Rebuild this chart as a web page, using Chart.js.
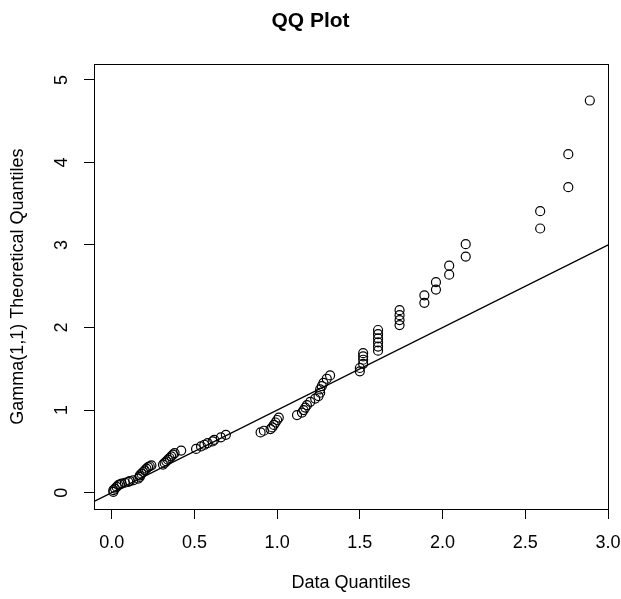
<!DOCTYPE html>
<html>
<head>
<meta charset="utf-8">
<script src="https://cdn.jsdelivr.net/npm/chart.js@4.4.1/dist/chart.umd.min.js"></script>
<style>
  html, body { margin: 0; padding: 0; background: #fff; }
  canvas { display: block; }
</style>
</head>
<body>
<canvas id="qq" width="621" height="599"></canvas>
<script>
// Sorted data quantiles (x) and Gamma(1,1) theoretical quantiles (y)
const dataQuantiles = [
  0.01, 0.01, 0.02, 0.03, 0.04, 0.05, 0.06, 0.08, 0.10, 0.11,
  0.13, 0.16, 0.17, 0.17, 0.18, 0.19, 0.20, 0.21, 0.22, 0.23,
  0.24, 0.31, 0.32, 0.33, 0.34, 0.35, 0.36, 0.37, 0.38, 0.42,
  0.51, 0.54, 0.56, 0.58, 0.61, 0.62, 0.66, 0.69,
  0.90, 0.92, 0.96, 0.97, 0.98, 0.99, 1.00, 1.01,
  1.12, 1.15, 1.16, 1.17, 1.18, 1.20, 1.23, 1.25, 1.26, 1.26, 1.27, 1.28, 1.30, 1.32,
  1.50, 1.50, 1.52, 1.52, 1.52, 1.52,
  1.61, 1.61, 1.61, 1.61, 1.61, 1.61,
  1.74, 1.74, 1.74, 1.74,
  1.89, 1.89, 1.96, 1.96, 2.04, 2.04, 2.14, 2.14, 2.59, 2.59, 2.76, 2.76, 2.89
];
const theoreticalQuantiles = [
  0.01, 0.03, 0.05, 0.07, 0.09, 0.10, 0.11, 0.12, 0.13, 0.14,
  0.15, 0.17, 0.19, 0.21, 0.23, 0.25, 0.27, 0.29, 0.31, 0.32,
  0.33, 0.34, 0.36, 0.38, 0.40, 0.42, 0.44, 0.46, 0.48, 0.51,
  0.53, 0.56, 0.58, 0.60, 0.62, 0.64, 0.67, 0.70,
  0.73, 0.75, 0.77, 0.79, 0.82, 0.85, 0.88, 0.91,
  0.94, 0.97, 1.00, 1.03, 1.06, 1.10, 1.14, 1.17, 1.21, 1.25, 1.29, 1.33, 1.38, 1.42,
  1.47, 1.51, 1.56, 1.61, 1.65, 1.69,
  1.72, 1.77, 1.82, 1.87, 1.92, 1.97,
  2.03, 2.09, 2.15, 2.21,
  2.30, 2.39, 2.46, 2.55, 2.64, 2.75, 2.86, 3.01, 3.20, 3.41, 3.70, 4.10, 4.75
];

// y = x reference line, end points in data units
const refLineX = [-0.2, 3.2];
const refLineY = [-0.2, 3.2];

const xTicks = [0, 0.5, 1.0, 1.5, 2.0, 2.5, 3.0];
const yTicks = [0, 1, 2, 3, 4, 5];

const FONT = "'Liberation Sans', Arial, Helvetica, sans-serif";

// draws the R-style box round the plot region
const boxPlugin = {
  id: 'box',
  afterDraw(chart) {
    const { ctx, chartArea: a } = chart;
    ctx.save();
    ctx.strokeStyle = '#000';
    ctx.lineWidth = 1;
    ctx.strokeRect(Math.round(a.left) + 0.5, Math.round(a.top) + 0.5,
      Math.round(a.right - a.left), Math.round(a.bottom - a.top));
    ctx.restore();
  }
};

const points = dataQuantiles.map((x, i) => ({ x: x, y: theoreticalQuantiles[i] }));
const line = refLineX.map((x, i) => ({ x: x, y: refLineY[i] }));

new Chart(document.getElementById('qq'), {
  type: 'scatter',
  data: {
    datasets: [
      {
        data: points,
        pointStyle: 'circle',
        pointRadius: 4.5,
        pointBorderWidth: 1.2,
        pointBorderColor: '#000',
        pointBackgroundColor: 'rgba(0,0,0,0)'
      },
      {
        type: 'line',
        data: line,
        borderColor: '#000',
        borderWidth: 1.2,
        pointRadius: 0,
        fill: false
      }
    ]
  },
  options: {
    responsive: false,
    devicePixelRatio: 1,
    animation: false,
    layout: { padding: { left: 0, right: 0, top: 0, bottom: 0 } },
    plugins: {
      legend: { display: false },
      tooltip: { enabled: false },
      title: {
        display: true,
        text: 'QQ Plot',
        color: '#000',
        font: { family: FONT, size: 21, weight: 'bold' },
        padding: { top: 9, bottom: 30 }
      }
    },
    scales: {
      x: {
        type: 'linear',
        min: -0.107,
        max: 3.0,
        afterBuildTicks: s => { s.ticks = xTicks.map(v => ({ value: v })); },
        afterFit: s => {
          s.height = 90;
          s.paddingLeft = 0;
          s.paddingRight = 13;
        },
        grid: { drawOnChartArea: false, drawTicks: true, tickLength: 10, color: '#000' },
        border: { display: false },
        ticks: {
          color: '#000',
          font: { family: FONT, size: 18 },
          padding: 13,
          maxRotation: 0,
          callback: v => v.toFixed(1)
        },
        title: {
          display: true,
          text: 'Data Quantiles',
          color: '#000',
          font: { family: FONT, size: 18 },
          padding: { top: 0, bottom: 5 }
        }
      },
      y: {
        type: 'linear',
        min: -0.198,
        max: 5.19,
        afterBuildTicks: s => { s.ticks = yTicks.map(v => ({ value: v })); },
        afterFit: s => { s.width = 94; },
        grid: { drawOnChartArea: false, drawTicks: true, tickLength: 10, color: '#000' },
        border: { display: false },
        ticks: {
          color: '#000',
          font: { family: FONT, size: 18 },
          padding: 17,
          minRotation: 90,
          maxRotation: 90,
          crossAlign: 'center',
          callback: v => String(v)
        },
        title: {
          display: true,
          text: 'Gamma(1,1) Theoretical Quantiles',
          color: '#000',
          font: { family: FONT, size: 18 },
          padding: { top: 7, bottom: 0 }
        }
      }
    }
  },
  plugins: [boxPlugin]
});
</script>
</body>
</html>
